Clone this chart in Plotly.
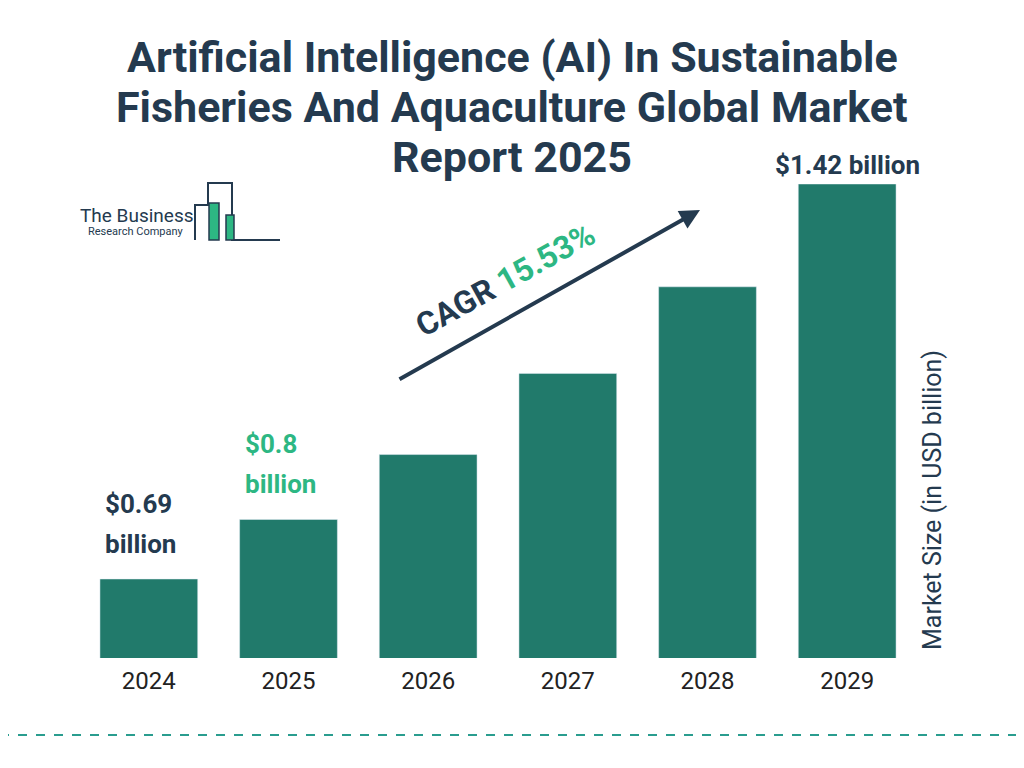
import plotly.graph_objects as go

years = ["2024", "2025", "2026", "2027", "2028", "2029"]
values = [0.69, 0.80, 0.92, 1.07, 1.23, 1.42]
labels = ["$0.69<br>billion", "$0.8<br>billion", None, None, None, "$1.42 billion"]
label_colors = ["#243a4f", "#2db783", None, None, None, "#243a4f"]

OFF = 8  # page offset
L, R, T, B = 79 - OFF, 917 - OFF, 184 - OFF, 658 - OFF
def px(x): return (x - OFF - L) / (R - L)
def py(y): return (B - (y - OFF)) / (B - T)

idx = list(range(len(years)))
fig = go.Figure(go.Bar(x=idx, y=values, marker_color="#217a6b", width=0.7, hoverinfo="skip"))

ann = []
for i, (lab, c) in enumerate(zip(labels, label_colors)):
    if lab:
        if i == 5:
            ann.append(dict(x=i, y=values[i], xref="x", yref="y", text=f"<b>{lab}</b>",
                            showarrow=False, yanchor="bottom", yshift=2, xanchor="center",
                            font=dict(size=26, color=c, family="Roboto")))
        else:
            l1, l2 = lab.split("<br>")
            for k, part in enumerate([l2, l1]):
                ann.append(dict(x=i, y=values[i], xref="x", yref="y", text=f"<b>{part}</b>",
                                showarrow=False, yanchor="bottom", yshift=18 + 40 * k,
                                xanchor="left", xshift=-46,
                                font=dict(size=26, color=c, family="Roboto")))
def pa(x, y, text, size, color="#243a4f", **kw):
    d = dict(x=px(x), y=py(y), xref="paper", yref="paper", text=text, showarrow=False,
             xanchor="center", yanchor="middle", font=dict(size=size, color=color, family="Roboto"))
    d.update(kw)
    ann.append(d)

title = ["Artificial Intelligence (AI) In Sustainable", "Fisheries And Aquaculture Global Market", "Report 2025"]
for k, t in enumerate(title):
    pa(512, 57 + 50 * k, f"<b>{t}</b>", 43)
pa(505, 280, "<b>CAGR <span style='color:#2db783'>15.53%</span></b>", 32, textangle=-29)
pa(932, 500, "Market Size (in USD billion)", 25, textangle=-90)
pa(137, 216, "The Business", 19)
pa(136, 231, "Research Company", 11)
ann.append(dict(x=px(700), y=py(210), ax=398 - 700, ay=380 - 210, xref="paper", yref="paper",
                axref="pixel", ayref="pixel", text="", showarrow=True, arrowhead=2, arrowsize=1,
                arrowwidth=4, arrowcolor="#243a4f"))

shapes = [
    dict(type="line", xref="paper", yref="paper", x0=px(0), x1=px(1024), y0=py(735), y1=py(735),
         line=dict(color="#2a9d8f", width=2, dash="dash")),
    dict(type="path", xref="paper", yref="paper",
         path=f"M {px(195)} {py(240)} L {px(195)} {py(205)} L {px(208)} {py(205)} L {px(208)} {py(183)} "
              f"L {px(232)} {py(183)} L {px(232)} {py(240)} L {px(280)} {py(240)}",
         line=dict(color="#243a4f", width=2)),
    dict(type="rect", xref="paper", yref="paper", x0=px(209), x1=px(219), y0=py(240), y1=py(203),
         fillcolor="#2db783", line=dict(color="#243a4f", width=1.5)),
    dict(type="rect", xref="paper", yref="paper", x0=px(226), x1=px(234), y0=py(240), y1=py(215),
         fillcolor="#2db783", line=dict(color="#243a4f", width=1.5)),
]

fig.update_layout(
    width=1024, height=768, margin=dict(l=L, r=1024 - R, t=T, b=768 - B),
    paper_bgcolor="white", plot_bgcolor="white", showlegend=False,
    xaxis=dict(range=[-0.5, 5.5], tickvals=idx, ticktext=years, ticklabelstandoff=6,
               tickfont=dict(size=24, color="#222", family="Roboto"),
               showline=False, showgrid=False, zeroline=False, ticks=""),
    yaxis=dict(range=[0.544, 1.42], visible=False),
    annotations=ann, shapes=shapes,
)
fig.write_html("out.html")
